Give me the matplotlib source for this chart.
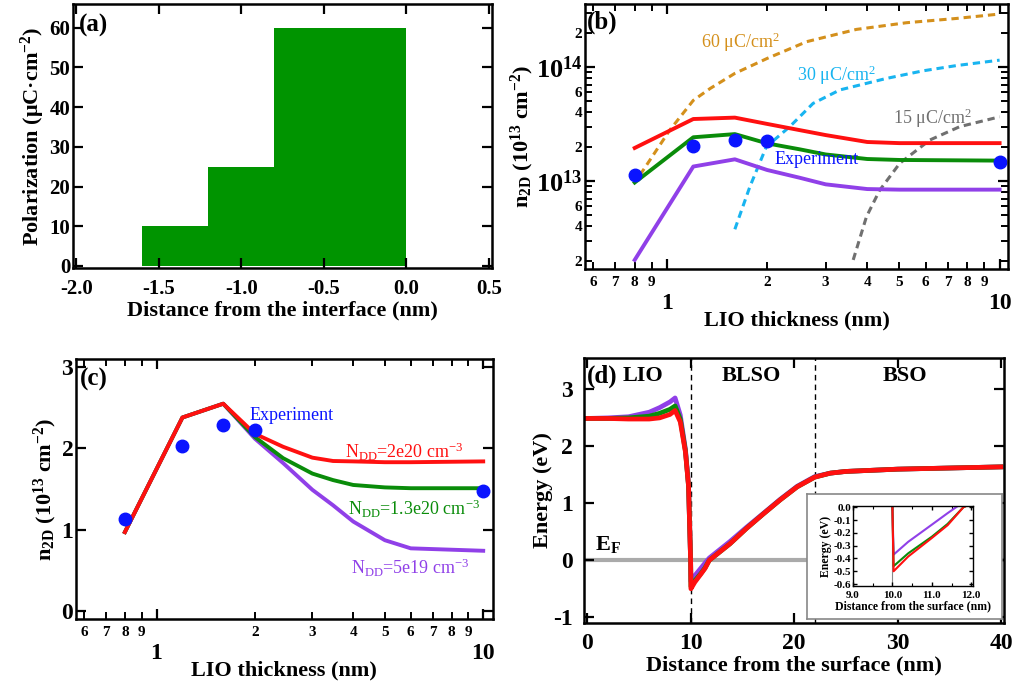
import numpy as np
import matplotlib.pyplot as plt

plt.rcParams['font.family'] = ['Liberation Serif', 'DejaVu Serif']
plt.rcParams['font.weight'] = 'bold'
plt.rcParams['axes.labelweight'] = 'bold'
plt.rcParams['mathtext.default'] = 'regular'
plt.rcParams['axes.unicode_minus'] = False
plt.rcParams['axes.linewidth'] = 1.8
plt.rcParams['xtick.direction'] = 'in'
plt.rcParams['ytick.direction'] = 'in'
plt.rcParams['xtick.top'] = True
plt.rcParams['ytick.right'] = True
plt.rcParams['xtick.major.width'] = 1.6
plt.rcParams['ytick.major.width'] = 1.6
plt.rcParams['xtick.minor.width'] = 1.4
plt.rcParams['ytick.minor.width'] = 1.4
plt.rcParams['xtick.major.size'] = 7
plt.rcParams['ytick.major.size'] = 7
plt.rcParams['xtick.minor.size'] = 5
plt.rcParams['ytick.minor.size'] = 5

RED = '#ff1010'
GREEN = '#0a8c0a'
PURPLE = '#9040e8'
BLUE = '#0a14ff'
GOLD = '#d4901c'
CYAN = '#18b4f0'
GREY = '#707070'

# ---- (a) polarization profile
pol_edges = [-1.6, -1.2, -0.8, 0.0]
pol_vals = [10, 25, 60]

# ---- (b) n2D vs LIO thickness (log-log)
b_x = [0.8, 1.2, 1.6, 2.0, 2.5, 3.0, 4.0, 5.0, 10.0]
b_red = [1.95e13, 3.5e13, 3.6e13, 3.17e13, 2.8e13, 2.53e13, 2.2e13, 2.15e13, 2.15e13]
b_green = [9.7e12, 2.42e13, 2.58e13, 2.14e13, 1.9e13, 1.71e13, 1.56e13, 1.53e13, 1.51e13]
b_purple = [2.03e12, 1.34e13, 1.55e13, 1.25e13, 1.07e13, 9.35e12, 8.5e12, 8.4e12, 8.4e12]

p60_x = [0.83, 1.02, 1.2, 1.35, 1.6, 2.0, 2.63, 3.71, 5.25, 7.41, 10.0]
p60_n = [1.13e13, 2.8e13, 5.1e13, 6.5e13, 8.8e13, 1.19e14, 1.67e14, 2.14e14, 2.45e14, 2.67e14, 2.92e14]
p30_x = [1.6, 1.775, 1.99, 2.34, 2.75, 3.31, 4.57, 5.89, 7.41, 10.0]
p30_n = [3.77e12, 8.9e12, 2.0e13, 3.0e13, 4.8e13, 6.3e13, 7.95e13, 9.27e13, 1.03e14, 1.15e14]
p15_x = [3.63, 3.98, 4.36, 5.01, 6.17, 7.59, 10.0]
p15_n = [2.03e12, 4.87e12, 8.3e12, 1.43e13, 2.29e13, 3.0e13, 3.66e13]

# experiment (units of 1e13 cm^-2)
exp_x = [0.8, 1.2, 1.6, 2.0, 10.0]
exp_n = [1.13, 2.03, 2.29, 2.23, 1.48]

# ---- (c) n2D vs LIO thickness for three N_DD
c_x = [0.8, 1.2, 1.6, 2.0, 2.44, 3.0, 3.47, 4.0, 5.0, 6.0, 10.0]
c_red = [0.97, 2.38, 2.55, 2.18, 2.02, 1.886, 1.845, 1.84, 1.83, 1.83, 1.84]
c_green = [0.97, 2.38, 2.55, 2.14, 1.88, 1.69, 1.61, 1.55, 1.52, 1.51, 1.51]
c_purple = [0.97, 2.38, 2.55, 2.12, 1.82, 1.49, 1.30, 1.10, 0.87, 0.77, 0.74]

# ---- (d) band profile
d_x = [0, 2, 4, 6, 7, 8, 8.5, 9.0, 9.5, 9.8, 10.0, 10.03, 10.4, 11.0, 11.4, 11.8,
       13.8, 15.4, 17.0, 18.65, 20.3, 22.0, 23.5, 25.0, 30.0, 35.0, 40.0]
d_red = [2.49, 2.49, 2.48, 2.48, 2.5, 2.56, 2.63, 2.43, 1.9, 1.3, 0.0, -0.5, -0.385, -0.24, -0.14, 0.0,
         0.29, 0.56, 0.81, 1.06, 1.29, 1.46, 1.53, 1.56, 1.60, 1.62, 1.64]
d_green = [2.49, 2.49, 2.5, 2.53, 2.58, 2.65, 2.71, 2.48, 1.92, 1.3, 0.0, -0.46, -0.36, -0.23, -0.13, 0.0,
           0.29, 0.56, 0.81, 1.06, 1.29, 1.46, 1.53, 1.56, 1.60, 1.62, 1.64]
d_purple = [2.49, 2.5, 2.52, 2.6, 2.68, 2.78, 2.85, 2.55, 1.95, 1.32, 0.0, -0.37, -0.27, -0.136, -0.046, 0.04,
            0.33, 0.58, 0.82, 1.07, 1.30, 1.47, 1.53, 1.56, 1.60, 1.62, 1.64]
layer_bounds = [10, 22]

fig = plt.figure(figsize=(10.14, 6.81), dpi=100)

# ================= (a)
ax = fig.add_axes([0.072, 0.6065, 0.4132, 0.3877])
ax.stairs(pol_vals, pol_edges, fill=True, baseline=0, color='#009400')
ax.set_xlim(-2.02, 0.52)
ax.set_ylim(-0.5, 66)
ax.set_xticks([-2.0, -1.5, -1.0, -0.5, 0.0, 0.5])
ax.set_yticks([0, 10, 20, 30, 40, 50, 60])
ax.tick_params(labelsize=15, pad=8)
ax.tick_params(axis='y', pad=2)
ax.set_xlabel('Distance from the interface (nm)', fontsize=16, labelpad=1)
ax.set_ylabel('Polarization (\u03bcC\u00b7cm$^{-2}$)', fontsize=16, labelpad=2)
ax.text(0.015, 0.92, '(a)', transform=ax.transAxes, fontsize=18, va='center')

# ================= (b)
ax = fig.add_axes([0.5769, 0.605, 0.4172, 0.389])
ax.plot(p60_x, p60_n, color=GOLD, lw=2.2, dashes=(2.4, 1.6))
ax.plot(p30_x, p30_n, color=CYAN, lw=2.2, dashes=(2.4, 1.6))
ax.plot(p15_x, p15_n, color=GREY, lw=2.2, dashes=(2.4, 1.6))
ax.plot(b_x, b_red, color=RED, lw=2.8)
ax.plot(b_x, b_green, color=GREEN, lw=2.8)
ax.plot(b_x, b_purple, color=PURPLE, lw=2.8)
ax.plot(exp_x, np.array(exp_n) * 1e13, 'o', color=BLUE, ms=9)
ax.set_xscale('log')
ax.set_yscale('log')
ax.set_xlim(0.567, 10.6)
ax.set_ylim(1.69e12, 3.57e14)
minor_x = [0.6, 0.7, 0.8, 0.9, 2, 3, 4, 5, 6, 7, 8, 9]
minor_xl = ['6', '7', '8', '9', '2', '3', '4', '5', '6', '7', '8', '9']
ax.set_xticks([1, 10], labels=['1', '10'])
ax.set_xticks(minor_x, labels=minor_xl, minor=True)
minor_y = [m * 10.0 ** e for e in (12, 13) for m in range(2, 10)] + [2e14, 3e14]
minor_yl = [('%d' % m if m in (2, 4, 6) else '') for e in (12, 13) for m in range(2, 10)] + ['2', '']
ax.set_yticks([1e13, 1e14], labels=['$10^{13}$', '$10^{14}$'])
ax.set_yticks(minor_y, labels=minor_yl, minor=True)
ax.tick_params(axis='x', which='major', labelsize=17, pad=17)
ax.tick_params(axis='x', which='minor', labelsize=11, pad=5)
ax.tick_params(axis='y', which='major', labelsize=19, pad=2)
ax.tick_params(axis='y', which='minor', labelsize=11, pad=2)
ax.set_xlabel('LIO thickness (nm)', fontsize=16, labelpad=-2)
ax.set_ylabel('n$_{2D}$ (10$^{13}$ cm$^{-2}$)', fontsize=16, labelpad=0)
ax.text(0.005, 0.93, '(b)', transform=ax.transAxes, fontsize=18, va='center')
ax.text(1.27, 1.66e14, '60 \u03bcC/cm$^{2}$', color=GOLD, fontsize=13, fontweight='normal', va='center')
ax.text(2.46, 8.5e13, '30 \u03bcC/cm$^{2}$', color=CYAN, fontsize=13, fontweight='normal', va='center')
ax.text(4.77, 3.57e13, '15 \u03bcC/cm$^{2}$', color=GREY, fontsize=13, fontweight='normal', va='center')
ax.text(2.11, 1.53e13, 'Experiment', color=BLUE, fontsize=13, fontweight='normal', va='center')

# ================= (c)
ax = fig.add_axes([0.075, 0.091, 0.411, 0.3818])
ax.plot(c_x, c_purple, color=PURPLE, lw=2.8)
ax.plot(c_x, c_green, color=GREEN, lw=2.8)
ax.plot(c_x, c_red, color=RED, lw=2.8)
ax.plot(exp_x, exp_n, 'o', color=BLUE, ms=9)
ax.set_xscale('log')
ax.set_xlim(0.567, 10.7)
ax.set_ylim(-0.1, 3.1)
ax.set_xticks([1, 10], labels=['1', '10'])
ax.set_xticks(minor_x, labels=minor_xl, minor=True)
ax.set_yticks([0, 1, 2, 3])
ax.tick_params(axis='x', which='major', labelsize=17, pad=17)
ax.tick_params(axis='x', which='minor', labelsize=11, pad=5)
ax.tick_params(axis='y', labelsize=17, pad=2)
ax.set_xlabel('LIO thickness (nm)', fontsize=16, labelpad=-2)
ax.set_ylabel('n$_{2D}$ (10$^{13}$ cm$^{-2}$)', fontsize=16, labelpad=2)
ax.text(0.01, 0.92, '(c)', transform=ax.transAxes, fontsize=18, va='center')
ax.text(1.93, 2.4, 'Experiment', color=BLUE, fontsize=13, fontweight='normal', va='center')
ax.text(3.77, 1.96, 'N$_{DD}$=2e20 cm$^{-3}$', color=RED, fontsize=13, fontweight='normal', va='center')
ax.text(3.86, 1.26, 'N$_{DD}$=1.3e20 cm$^{-3}$', color=GREEN, fontsize=13, fontweight='normal', va='center')
ax.text(3.95, 0.525, 'N$_{DD}$=5e19 cm$^{-3}$', color=PURPLE, fontsize=13, fontweight='normal', va='center')

# ================= (d)
ax = fig.add_axes([0.576, 0.0852, 0.4142, 0.389])
ax.axhline(0, color='#aaaaaa', lw=3, zorder=1)
for xb in layer_bounds:
    ax.axvline(xb, color='black', lw=1.0, dashes=(4, 3), zorder=1)
ax.plot(d_x, d_purple, color=PURPLE, lw=3.4, zorder=2)
ax.plot(d_x, d_green, color=GREEN, lw=3.4, zorder=2)
ax.plot(d_x, d_red, color=RED, lw=3.4, zorder=2)
ax.set_xlim(-0.3, 40.3)
ax.set_ylim(-1.1, 3.55)
ax.set_xticks([0, 10, 20, 30, 40])
ax.set_yticks([-1, 0, 1, 2, 3])
ax.tick_params(labelsize=17, pad=7)
ax.tick_params(axis='y', pad=8)
ax.set_xlabel('Distance from the surface (nm)', fontsize=16, labelpad=1)
ax.set_ylabel('Energy (eV)', fontsize=16, labelpad=0)
ax.text(0.007, 0.933, '(d)', transform=ax.transAxes, fontsize=18, va='center')
ax.text(5.35, 3.24, 'LIO', fontsize=16, ha='center', va='center')
ax.text(15.9, 3.24, 'BLSO', fontsize=16, ha='center', va='center')
ax.text(30.75, 3.24, 'BSO', fontsize=16, ha='center', va='center')
ax.text(0.8, 0.27, 'E$_F$', fontsize=16, va='center')

# inset frame
box = fig.add_axes([0.7956, 0.0906, 0.1923, 0.184])
box.set_xticks([])
box.set_yticks([])
for s in box.spines.values():
    s.set_color('#888888')
    s.set_linewidth(1.2)

ins = fig.add_axes([0.8412, 0.1395, 0.1186, 0.1175])
ins.axvline(10, color='#888888', lw=0.8, zorder=1)
ins.plot(d_x, d_purple, color=PURPLE, lw=1.5)
ins.plot(d_x, d_green, color=GREEN, lw=1.5)
ins.plot(d_x, d_red, color=RED, lw=1.5)
ins.set_xlim(9.0, 12.05)
ins.set_ylim(-0.615, 0.01)
ins.set_xticks([9, 10, 11, 12], labels=['9.0', '10.0', '11.0', '12.0'])
ins.set_xticks([9.5, 10.5, 11.5], minor=True)
ins.set_yticks([0, -0.1, -0.2, -0.3, -0.4, -0.5, -0.6],
               labels=['0.0', '-0.1', '-0.2', '-0.3', '-0.4', '-0.5', '-0.6'])
for s in ins.spines.values():
    s.set_linewidth(1.0)
ins.tick_params(labelsize=8, length=3, width=1)
ins.tick_params(axis='x', pad=3.5)
ins.tick_params(axis='y', pad=1.5)
ins.tick_params(which='minor', length=2, width=0.8)
ins.set_xlabel('Distance from the surface (nm)', fontsize=8.5, labelpad=0)
ins.set_ylabel('Energy (eV)', fontsize=8.5, labelpad=1)

fig.savefig('out.png', dpi=100)
